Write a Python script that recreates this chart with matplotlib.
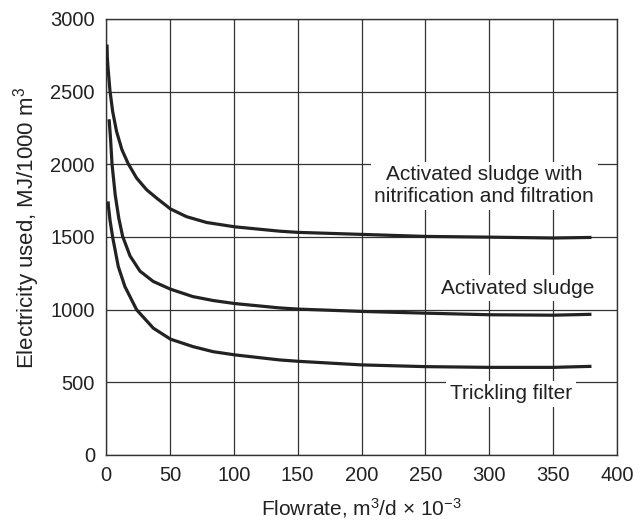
import matplotlib
matplotlib.use("Agg")
import matplotlib.pyplot as plt

plt.rcParams['font.family'] = ['Liberation Sans', 'DejaVu Sans']
plt.rcParams['mathtext.fontset'] = 'custom'
plt.rcParams['mathtext.rm'] = 'Liberation Sans'
plt.rcParams['mathtext.default'] = 'regular'

# Data
nitr_x = [0.8, 1.0, 1.6, 3.1, 5.2, 8.3, 12.5, 17.4, 24, 31.8, 40, 50.5, 63, 78.7, 100.8, 136, 150, 200, 250, 300, 350, 380]
nitr_y = [2824, 2740, 2663, 2507, 2364, 2225, 2100, 2004, 1905, 1825, 1765, 1693, 1640, 1600, 1570, 1540, 1532, 1518, 1504, 1499, 1493, 1497]

as_x = [2.4, 2.6, 3.6, 4.7, 7.2, 10, 13, 18.8, 26.6, 37, 50.5, 68, 83.8, 100.8, 136, 150, 200, 250, 300, 350, 380]
as_y = [2310, 2290, 2170, 2004, 1790, 1630, 1505, 1370, 1265, 1194, 1141, 1090, 1063, 1042, 1012, 1004, 988, 976, 965, 962, 968]

tf_x = [1.7, 1.8, 3.1, 5.2, 9.6, 14.8, 24, 37, 50.5, 68, 83.8, 100.8, 136, 150, 200, 250, 300, 350, 380]
tf_y = [1745, 1720, 1618, 1499, 1297, 1159, 999, 873, 797, 746, 711, 689, 654, 645, 620, 608, 603, 603, 610]

x_ticks = [0, 50, 100, 150, 200, 250, 300, 350, 400]
y_ticks = [0, 500, 1000, 1500, 2000, 2500, 3000]

labels = ["Activated sludge with\nnitrification and filtration", "Activated sludge", "Trickling filter"]

dark = '#222222'
fig = plt.figure(figsize=(6.4, 5.2), dpi=100)
ax = fig.add_axes([106/640, 65/520, 511/640, 436/520])

ax.set_xlim(0, 400)
ax.set_ylim(0, 3000)
ax.set_xticks(x_ticks)
ax.set_yticks(y_ticks)
ax.grid(True, color='#333333', linewidth=0.9, zorder=1)
ax.set_axisbelow(True)
ax.tick_params(length=0, labelsize=14.5, labelcolor=dark, pad=8)
for s in ax.spines.values():
    s.set_color('#333333')
    s.set_linewidth(1.0)

for xs, ys in [(nitr_x, nitr_y), (as_x, as_y), (tf_x, tf_y)]:
    ax.plot(xs, ys, color=dark, linewidth=2.3, solid_capstyle='butt',
            solid_joinstyle='round', zorder=3)

bb = dict(facecolor='white', edgecolor='none', pad=2.5)
ax.text(296, 1853, labels[0], ha='center', va='center', fontsize=15, color=dark,
        bbox=bb, zorder=4)
ax.text(322, 1109, labels[1], ha='center', va='baseline', fontsize=15, color=dark,
        bbox=bb, zorder=4)
ax.text(317, 384, labels[2], ha='center', va='baseline', fontsize=15, color=dark,
        bbox=bb, zorder=4)

ax.set_xlabel("Flowrate, m$^3$/d × 10$^{-3}$", fontsize=15, color=dark, labelpad=8)
ax.set_ylabel("Electricity used, MJ/1000 m$^3$", fontsize=16, color=dark, labelpad=7)
ax.yaxis.set_label_coords(-0.125, 0.52)

fig.savefig("out.png", dpi=100)
